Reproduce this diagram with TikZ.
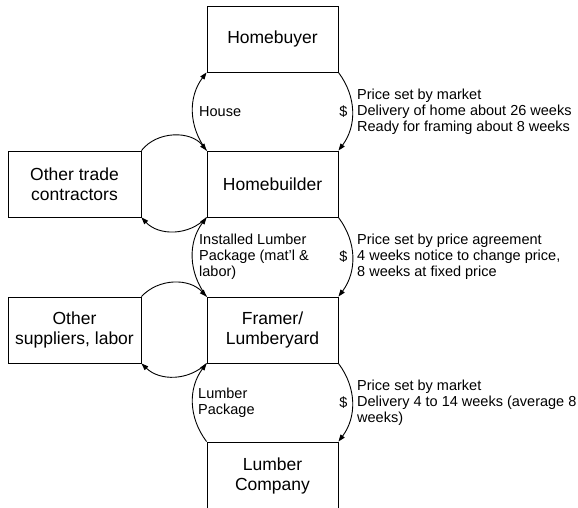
\documentclass[tikz,border=0pt]{standalone}
\usepackage{fontspec}
\setmainfont{Liberation Sans}
\usetikzlibrary{arrows.meta}
\begin{document}
\begin{tikzpicture}[x=1pt,y=-1pt,
  box/.style={draw,line width=0.9pt,minimum width=131pt,minimum height=66pt,inner sep=0pt,align=center,font=\fontsize{17.5}{20}\selectfont},
  lbl/.style={inner sep=0pt,anchor=west,align=left,font=\fontsize{14.5}{16}\selectfont},
  dollar/.style={inner sep=0pt,anchor=center,font=\fontsize{14.5}{16}\selectfont},
  flow/.style={line width=0.9pt,-{Triangle[length=7pt,width=5pt]}}
  ]
\useasboundingbox (0,0) rectangle (578,508);
% main column
\node[box] (buyer) at (272.5,39) {Homebuyer};
\node[box] (builder) at (272.5,184) {Homebuilder};
\node[box] (framer) at (272.5,330) {Framer/\\Lumberyard};
\node[box,minimum height=68pt] (lumber) at (272.5,476) {Lumber\\Company};
% side boxes
\node[box,minimum width=133pt] (trade) at (74.5,184) {Other trade\\contractors};
\node[box,minimum width=133pt] (supp) at (74.5,330) {Other\\suppliers, labor};
% left flows (up)
\draw[flow] (builder.north west) to[bend left=37] (buyer.south west);
\draw[flow] (framer.north west) to[bend left=37] (builder.south west);
\draw[flow] (lumber.north west) to[bend left=37] (framer.south west);
% right flows (down)
\draw[flow] (buyer.south east) to[bend left=37] (builder.north east);
\draw[flow] (builder.south east) to[bend left=37] (framer.north east);
\draw[flow] (framer.south east) to[bend left=37] (lumber.north east);
% side arcs
\draw[flow] (trade.north east) to[bend left=52] (builder.north west);
\draw[flow] (builder.south west) to[bend left=47] (trade.south east);
\draw[flow] (supp.north east) to[bend left=47] (framer.north west);
\draw[flow] (framer.south west) to[bend left=44] (supp.south east);
% left labels
\node[lbl] (house) at (199,111.5) {House};
\node[lbl] (installed) at (199,257) {Installed Lumber\\Package (mat'l \&\\labor)};
\node[lbl] (package) at (198,402.5) {Lumber\\Package};
% dollars
\node[dollar] (d1) at (343.5,111.5) {\$};
\node[dollar] (d2) at (343.5,257) {\$};
\node[dollar] (d3) at (343.5,402.5) {\$};
% right labels
\node[lbl] (t1) at (357,111.5) {Price set by market\\Delivery of home about 26 weeks\\Ready for framing about 8 weeks};
\node[lbl] (t2) at (357,257) {Price set by price agreement\\4 weeks notice to change price,\\8 weeks at fixed price};
\node[lbl] (t3) at (357,402.5) {Price set by market\\Delivery 4 to 14 weeks (average 8\\weeks)};
\end{tikzpicture}
\end{document}
